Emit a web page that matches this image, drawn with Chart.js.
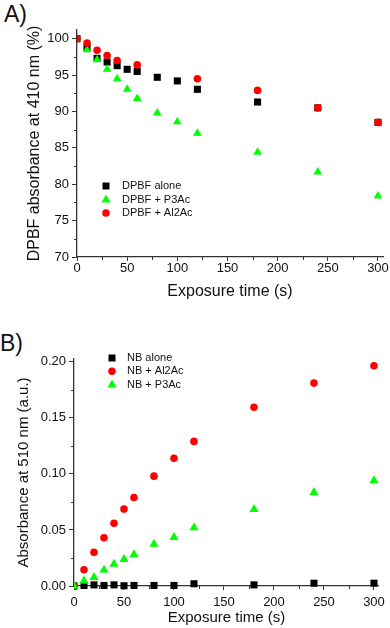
<!DOCTYPE html>
<html lang="en">
<head>
<meta charset="UTF-8">
<title>DPBF / NB absorbance vs exposure time</title>
<script src="https://cdn.jsdelivr.net/npm/chart.js"></script>
<style>
  body { margin: 0; background: #fff; font-family: "Liberation Sans", Arial, sans-serif; }
  .wrap { position: relative; width: 390px; height: 628px; overflow: hidden; }
  .box { position: absolute; left: 0; width: 390px; }
  .panel { position: absolute; font-size: 23px; line-height: 23px; color: #111; }
</style>
</head>
<body>
<div class="wrap">
  <div class="panel" style="left:4px; top:3px;">A)</div>
  <div class="box" style="top:0; height:305px;"><canvas id="chartA"></canvas></div>
  <div class="panel" style="left:0px; top:332px;">B)</div>
  <div class="box" style="top:310px; height:318px;"><canvas id="chartB"></canvas></div>
</div>
<script>
// panel A: DPBF absorbance at 410 nm (%)
const timeA = [0, 10, 20, 30, 40, 50, 60, 80, 100, 120, 180, 240, 300];
const dpbfAlone = [100, 98.8, 97.3, 96.8, 96.3, 95.8, 95.5, 94.7, 94.2, 93.05, 91.3, 90.5, 88.5];
const dpbfP3Ac = [100, 98.5, 97.1, 95.8, 94.5, 93.05, 91.8, 89.8, 88.6, 87.0, 84.4, 81.7, 78.4];
const timeAl2A = [0, 10, 20, 30, 40, 60, 120, 180, 240, 300];
const dpbfAl2Ac = [100, 99.4, 98.4, 97.7, 97.0, 96.4, 94.5, 92.9, 90.5, 88.5];
const yTicksA = [70, 75, 80, 85, 90, 95, 100];

// panel B: absorbance at 510 nm (a.u.)
const timeB = [0, 10, 20, 30, 40, 50, 60, 80, 100, 120, 180, 240, 300];
const nbAlone = [0, 0.0005, 0.001, 0.0005, 0.001, 0.0002, 0.0005, 0.0005, 0.0005, 0.002, 0.001, 0.0025, 0.0025];
const nbAl2Ac = [0, 0.0145, 0.030, 0.043, 0.056, 0.0686, 0.079, 0.098, 0.114, 0.129, 0.1595, 0.181, 0.1965];
const nbP3Ac = [0, 0.0047, 0.0078, 0.0143, 0.0196, 0.0238, 0.028, 0.0374, 0.0434, 0.052, 0.0684, 0.0835, 0.094];
const yTicksB = [0, 0.05, 0.10, 0.15, 0.20];
const xTicks = [0, 50, 100, 150, 200, 250, 300];

const FONT = '"Liberation Sans", Arial, sans-serif';
const AXIS = '#333';

function pts(xs, ys) {
  return xs.map((x, i) => ({ x: x, y: ys[i] }));
}

function ds(label, data, color, style, radius, order) {
  return {
    label: label, data: data, showLine: false, order: order,
    // cut at the y axis only, like the original
    clip: { left: 0, top: 20, right: 20, bottom: 20 },
    pointStyle: style, pointRadius: radius, pointHoverRadius: radius,
    pointBackgroundColor: color, pointBorderColor: color, pointBorderWidth: 0
  };
}

// minor ticks between the major ones
const minorTicks = {
  id: 'minorTicks',
  afterDraw(chart, args, opts) {
    const ctx = chart.ctx;
    ctx.save();
    ctx.strokeStyle = AXIS;
    ctx.lineWidth = 1;
    const sx = chart.scales.x, sy = chart.scales.y;
    for (let v = opts.xStep; v < sx.max; v += opts.xStep * 2) {
      const px = Math.round(sx.getPixelForValue(v)) + 0.5;
      ctx.beginPath(); ctx.moveTo(px, sx.top); ctx.lineTo(px, sx.top + 3); ctx.stroke();
    }
    for (let v = sy.min + opts.yStep; v < sy.max; v += opts.yStep * 2) {
      const py = Math.round(sy.getPixelForValue(v)) + 0.5;
      ctx.beginPath(); ctx.moveTo(sy.right, py); ctx.lineTo(sy.right - 3, py); ctx.stroke();
    }
    ctx.restore();
  }
};

// legend inside the plot area
const innerLegend = {
  id: 'innerLegend',
  afterDraw(chart, args, opts) {
    const ctx = chart.ctx;
    const area = chart.chartArea;
    ctx.save();
    ctx.font = '11px ' + FONT;
    ctx.textBaseline = 'middle';
    opts.items.forEach((it, i) => {
      const d = chart.data.datasets[it];
      const mx = area.left + opts.markerX;
      const my = area.top + opts.top + i * opts.gap;
      ctx.fillStyle = d.pointBackgroundColor;
      ctx.beginPath();
      if (d.pointStyle === 'rect') {
        ctx.rect(mx - 3.5, my - 3.5, 7, 7);
      } else if (d.pointStyle === 'circle') {
        ctx.arc(mx, my, 3.8, 0, Math.PI * 2);
      } else {
        ctx.moveTo(mx, my - 5);
        ctx.lineTo(mx + 4.5, my + 3);
        ctx.lineTo(mx - 4.5, my + 3);
        ctx.closePath();
      }
      ctx.fill();
      ctx.fillStyle = '#111';
      ctx.fillText(d.label, area.left + opts.textX, my);
    });
    ctx.restore();
  }
};

function baseScales(cfg) {
  return {
    x: {
      type: 'linear', min: 0, max: 305,
      afterFit: s => { s.height = cfg.xHeight; },
      afterBuildTicks: s => { s.ticks = xTicks.map(v => ({ value: v })); },
      border: { display: true, color: AXIS, width: 1.3 },
      grid: { display: true, drawOnChartArea: false, drawTicks: true, tickLength: 4, color: AXIS },
      ticks: { color: '#111', padding: cfg.xPad, maxRotation: 0, font: { family: FONT, size: 13 } },
      title: { display: true, text: 'Exposure time (s)', color: '#111',
               font: { family: FONT, size: cfg.titleSize }, padding: { top: 0, bottom: cfg.xTitlePad } }
    },
    y: {
      type: 'linear', min: cfg.yMin, max: cfg.yMax,
      afterFit: s => { s.width = cfg.yWidth; },
      afterBuildTicks: s => { s.ticks = cfg.yTicks.map(v => ({ value: v })); },
      border: { display: true, color: AXIS, width: 1.3 },
      grid: { display: true, drawOnChartArea: false, drawTicks: true, tickLength: 5, color: AXIS },
      ticks: { color: '#111', padding: 3, font: { family: FONT, size: 13 }, callback: cfg.fmt },
      title: { display: true, text: cfg.yTitle, color: '#111',
               font: { family: FONT, size: cfg.titleSize }, padding: { top: cfg.yTitlePad, bottom: 0 } }
    }
  };
}

new Chart(document.getElementById('chartA'), {
  type: 'scatter',
  data: {
    datasets: [
      ds('DPBF alone', pts(timeA, dpbfAlone), '#000000', 'rect', 5, 2),
      ds('DPBF + P3Ac', pts(timeA, dpbfP3Ac), '#00ff00', 'triangle', 5, 1),
      ds('DPBF + Al2Ac', pts(timeAl2A, dpbfAl2Ac), '#ff0000', 'circle', 3.8, 0)
    ]
  },
  options: {
    responsive: true, maintainAspectRatio: false, animation: false,
    layout: { padding: { top: 30, right: 7, left: 0, bottom: 0 } },
    plugins: {
      legend: { display: false }, tooltip: { enabled: false },
      minorTicks: { xStep: 25, yStep: 2.5 },
      innerLegend: { items: [0, 1, 2], markerX: 29, textX: 45, top: 156, gap: 13.5 }
    },
    scales: baseScales({
      xHeight: 48, xPad: 0, xTitlePad: 4, titleSize: 16,
      yMin: 70, yMax: 101.2, yWidth: 77, yTicks: yTicksA, yTitlePad: 25,
      yTitle: 'DPBF absorbance at 410 nm (%)', fmt: v => v
    })
  },
  plugins: [minorTicks, innerLegend]
});

new Chart(document.getElementById('chartB'), {
  type: 'scatter',
  data: {
    datasets: [
      ds('NB alone', pts(timeB, nbAlone), '#000000', 'rect', 5, 2),
      ds('NB + Al2Ac', pts(timeB, nbAl2Ac), '#ff0000', 'circle', 3.8, 1),
      ds('NB + P3Ac', pts(timeB, nbP3Ac), '#00ff00', 'triangle', 5.3, 0)
    ]
  },
  options: {
    responsive: true, maintainAspectRatio: false, animation: false,
    layout: { padding: { top: 49, right: 11, left: 0, bottom: 0 } },
    plugins: {
      legend: { display: false }, tooltip: { enabled: false },
      minorTicks: { xStep: 25, yStep: 0.025 },
      innerLegend: { items: [0, 1, 2], markerX: 38, textX: 53, top: -1, gap: 13.3 }
    },
    scales: baseScales({
      xHeight: 42, xPad: 5, xTitlePad: 1, titleSize: 15,
      yMin: 0, yMax: 0.2025, yWidth: 74, yTicks: yTicksB, yTitlePad: 15,
      yTitle: 'Absorbance at 510 nm (a.u.)', fmt: v => v.toFixed(2)
    })
  },
  plugins: [minorTicks, innerLegend]
});
</script>
</body>
</html>
